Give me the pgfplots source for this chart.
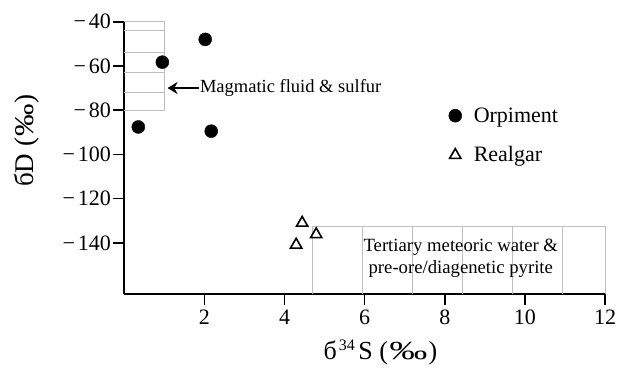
\documentclass[border=0pt]{standalone}
\usepackage{pgfplots}
\pgfplotsset{compat=1.18}
\usepackage{graphicx}
\usepackage{fontspec}
\setmainfont{Liberation Serif}
\usetikzlibrary{arrows.meta}
\definecolor{boxgray}{RGB}{190,190,190}
\newcommand{\mn}{\char"2212\kern0.12em}
\begin{document}
\begin{tikzpicture}
\begin{axis}[
  name=ax,
  scale only axis,
  width=480.7pt, height=272pt,
  xmin=0, xmax=12, ymin=-163, ymax=-40,
  enlargelimits=false,
  axis x line=bottom, axis y line=left,
  axis line style={line width=1.7pt, -},
  tick align=outside,
  major tick length=11pt,
  tick style={line width=1.7pt, black},
  xtick={2,4,6,8,10,12},
  ytick={-40,-60,-80,-100,-120,-140},
  yticklabels={\mn40,\mn60,\mn80,\mn100,\mn120,\mn140},
  /pgf/number format/assume math mode=true,
  ticklabel style={font=\fontsize{22}{26}\selectfont},
  xticklabel style={yshift=-2pt},
  yticklabel style={xshift=1pt},
  xlabel={б\kern2pt\textsuperscript{\fontsize{16}{18}\selectfont 34}\kern3pt S (\kern1.5pt\scalebox{1.45}[1]{‰}\kern1.5pt)},
  ylabel={бD (\kern1pt\scalebox{1.2}[1]{‰}\kern1pt)},
  xlabel style={font=\fontsize{26}{30}\selectfont, at={(axis description cs:0.533,-0.215)}, anchor=center},
  ylabel style={font=\fontsize{27}{30}\selectfont, at={(axis description cs:-0.202,0.5625)}, anchor=center},
  clip=false,
  legend style={at={(axis cs:8.02,-91.5)}, anchor=west, draw=none, fill=none,
     font=\fontsize{22}{26}\selectfont, row sep=19pt, column sep=10pt,
     legend cell align=left},
]
% Magmatic fluid & sulfur box
\addplot[boxgray, line width=1pt, forget plot] coordinates {(0,-40) (1,-40) (1,-80) (0,-80)};
\addplot[boxgray, line width=1pt, forget plot] coordinates {(0,-44) (1,-44)};
\addplot[boxgray, line width=1pt, forget plot] coordinates {(0,-54) (1,-54)};
\addplot[boxgray, line width=1pt, forget plot] coordinates {(0,-63) (1,-63)};
\addplot[boxgray, line width=1pt, forget plot] coordinates {(0,-72) (1,-72)};
% Tertiary meteoric water box
\addplot[boxgray, line width=1pt, forget plot] coordinates {(4.69,-163) (4.69,-132.4) (12,-132.4) (12,-163)};
\addplot[boxgray, line width=1pt, forget plot] coordinates {(5.94,-163) (5.94,-132.4)};
\addplot[boxgray, line width=1pt, forget plot] coordinates {(7.19,-163) (7.19,-132.4)};
\addplot[boxgray, line width=1pt, forget plot] coordinates {(8.44,-163) (8.44,-132.4)};
\addplot[boxgray, line width=1pt, forget plot] coordinates {(9.69,-163) (9.69,-132.4)};
\addplot[boxgray, line width=1pt, forget plot] coordinates {(10.93,-163) (10.93,-132.4)};
% data
\addplot[only marks, mark=*, mark size=6.5pt, black, fill=black] coordinates {
  (0.35,-87.6) (0.95,-58.3) (2.02,-48.0) (2.17,-89.5)};
\addlegendentry{Orpiment}
\addplot[only marks, mark=triangle, mark size=6.5pt, black, line width=1.6pt] coordinates {
  (4.44,-131) (4.29,-140.9) (4.79,-136.2)};
\addlegendentry{Realgar}
% annotations
\draw[line width=1.6pt, -{Stealth[length=10pt,width=12pt]}] (axis cs:1.86,-70) -- (axis cs:1.08,-70);
\node[anchor=west, font=\fontsize{18.5}{21}\selectfont, inner sep=1pt] at (axis cs:1.86,-70) {Magmatic fluid \& sulfur};
\node[align=center, font=\fontsize{18.7}{22}\selectfont] at (axis cs:8.40,-147.2) {Tertiary meteoric water \&\\pre-ore/diagenetic pyrite};
\end{axis}
\pgfresetboundingbox
\path ([shift={(-124.3pt,-83pt)}]ax.south west) rectangle ([shift={(14pt,21.7pt)}]ax.north east);
\end{tikzpicture}
\end{document}
